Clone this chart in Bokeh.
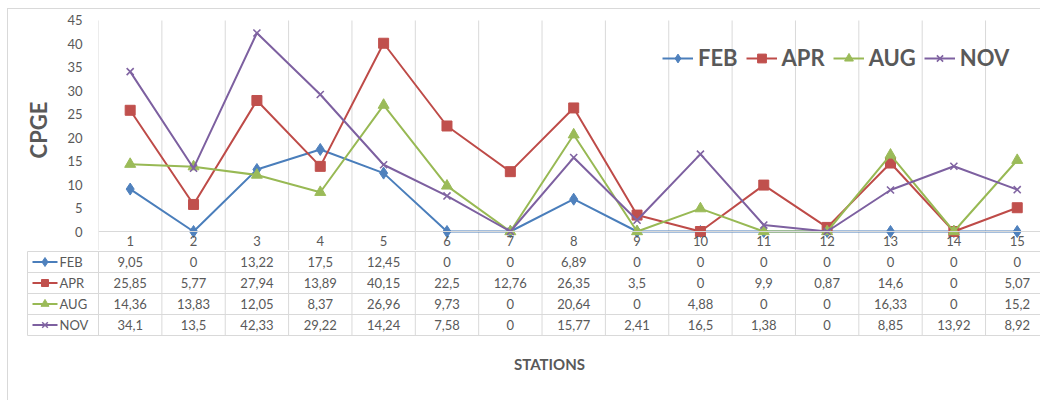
from bokeh.plotting import figure
from bokeh.models import FixedTicker, Range1d, Legend, LegendItem, ColumnDataSource
from bokeh.layouts import column
from bokeh.embed import file_html
from bokeh.resources import INLINE
from bokeh.core.properties import value

# ---------------- data ----------------
stations = list(range(1, 16))
series_names = ["FEB", "APR", "AUG", "NOV"]
feb = [9.05, 0, 13.22, 17.5, 12.45, 0, 0, 6.89, 0, 0, 0, 0, 0, 0, 0]
apr = [25.85, 5.77, 27.94, 13.89, 40.15, 22.5, 12.76, 26.35, 3.5, 0, 9.9, 0.87, 14.6, 0, 5.07]
aug = [14.36, 13.83, 12.05, 8.37, 26.96, 9.73, 0, 20.64, 0, 4.88, 0, 0, 16.33, 0, 15.2]
nov = [34.1, 13.5, 42.33, 29.22, 14.24, 7.58, 0, 15.77, 2.41, 16.5, 1.38, 0, 8.85, 13.92, 8.92]
y_ticks = [0, 5, 10, 15, 20, 25, 30, 35, 40, 45]
x_title = "STATIONS"
y_title = "CPGE"

# ---------------- style ----------------
FONT = "Lato"
TXT = "#595959"
GRID = "#d9d9d9"
line_colors = ["#4A7EBB", "#BE4B48", "#98B954", "#7D60A0"]
fill_colors = ["#4F81BD", "#C0504D", "#9BBB59", "#8064A2"]
markers = ["diamond", "square", "triangle", "x"]
msizes = [12, 10, 11, 10]
series = [feb, apr, aug, nov]

W = 1032
PX_CAT = 63.36          # pixels per station
PX_UNIT = 4.689         # pixels per CPGE unit
A_H = 241               # top figure height
ZERO_Y = 222            # zero line, pixels from top figure's top
LEFT_A = 90
LEFT_B = 18
KEY_W = 71 / PX_CAT     # width of key column, in station units
ROW_PX = 21.0

n = len(stations)
x_end = 0.5 + (W - LEFT_A) / PX_CAT
y_top = ZERO_Y / PX_UNIT
y_bot = -(A_H - ZERO_Y) / PX_UNIT

# ---------------- chart ----------------
p = figure(width=W, height=A_H, output_backend="svg", toolbar_location=None,
           x_range=Range1d(0.5, x_end), y_range=Range1d(y_bot, y_top),
           min_border_left=LEFT_A, min_border_right=0, min_border_top=0, min_border_bottom=0)
p.frame_align = False
p.outline_line_color = None
p.grid.visible = False
p.background_fill_color = "white"
p.border_fill_color = "white"

# vertical category gridlines
bounds = [i + 0.5 for i in range(n + 1)]
p.segment(x0=bounds, x1=bounds, y0=[max(y_ticks)] * len(bounds), y1=[y_bot] * len(bounds),
          line_color=GRID, line_width=1)

yax = p.yaxis[0]
yax.ticker = FixedTicker(ticks=y_ticks)
yax.axis_line_color = None
yax.major_tick_line_color = None
yax.minor_tick_line_color = None
yax.major_label_text_font = FONT
yax.major_label_text_font_size = "13px"
yax.major_label_text_color = TXT
yax.major_label_standoff = 10
yax.axis_label = y_title
yax.axis_label_text_font = FONT
yax.axis_label_text_font_size = "22px"
yax.axis_label_text_font_style = "bold"
yax.axis_label_text_color = TXT
yax.axis_label_standoff = 12

xax = p.xaxis[0]
xax.fixed_location = 0
xax.ticker = FixedTicker(ticks=stations)
xax.axis_line_color = GRID
xax.axis_line_width = 1
xax.major_tick_line_color = None
xax.minor_tick_line_color = None
xax.major_label_text_font = FONT
xax.major_label_text_font_size = "13px"
xax.major_label_text_color = TXT
xax.major_label_standoff = -2

items = []
for name, vals, lc, fc, mk, ms in zip(series_names, series, line_colors, fill_colors, markers, msizes):
    src = ColumnDataSource(dict(x=stations, y=vals))
    r1 = p.line("x", "y", source=src, line_color=lc, line_width=2)
    if mk == "x":
        r2 = p.scatter("x", "y", source=src, marker=mk, size=ms, line_color=fc, line_width=1.6)
    else:
        r2 = p.scatter("x", "y", source=src, marker=mk, size=ms, fill_color=fc, line_color=fc)
    items.append(LegendItem(label=name, renderers=[r1, r2]))

legend = Legend(items=items, orientation="horizontal", location=(564, 179),
                label_text_font=FONT, label_text_font_size="22px", label_text_font_style="bold",
                label_text_color=TXT, glyph_width=31, glyph_height=22, label_height=22,
                label_standoff=5, spacing=8, padding=0, margin=0,
                border_line_color=None, background_fill_alpha=0)
p.add_layout(legend)

# ---------------- data table ----------------
B_H = 150
top_pad = 1 / ROW_PX
t_top = 4 + top_pad
t_bot = t_top - B_H / ROW_PX
t = figure(width=W, height=B_H, output_backend="svg", toolbar_location=None,
           x_range=Range1d(0.5 - (71 + 1) / PX_CAT, x_end), y_range=Range1d(t_bot, t_top),
           x_axis_location=None, y_axis_location=None,
           min_border_left=LEFT_B, min_border_right=0, min_border_top=0, min_border_bottom=0)
t.frame_align = False
t.outline_line_color = None
t.grid.visible = False
t.border_fill_color = "white"

left_edge = 0.5 - KEY_W
rows = [0, 1, 2, 3, 4]
t.segment(x0=[left_edge] * len(rows), x1=[n + 0.5] * len(rows), y0=rows, y1=rows,
          line_color=GRID, line_width=1)
vx = [left_edge] + bounds
t.segment(x0=vx, x1=vx, y0=[0] * len(vx), y1=[4] * len(vx), line_color=GRID, line_width=1)

def fmt(v):
    return str(v).replace(".", ",")

for k, (name, vals, lc, fc, mk, ms) in enumerate(zip(series_names, series, line_colors,
                                                     fill_colors, markers, msizes)):
    yrow = 3.5 - k
    t.text(x=stations, y=[yrow] * n, text=[fmt(v) for v in vals],
           text_font=value(FONT), text_font_size="13px", text_color=TXT,
           text_align="center", text_baseline="middle")
    # key
    kx0 = left_edge + 5 / PX_CAT
    kx1 = left_edge + 30 / PX_CAT
    t.line(x=[kx0, kx1], y=[yrow, yrow], line_color=lc, line_width=2)
    km = (kx0 + kx1) / 2
    if mk == "x":
        t.scatter(x=[km], y=[yrow], marker=mk, size=ms - 2, line_color=fc, line_width=1.5)
    else:
        t.scatter(x=[km], y=[yrow], marker=mk, size=ms - 3, fill_color=fc, line_color=fc)
    t.text(x=[kx1 + 2 / PX_CAT], y=[yrow], text=[name], text_font=value(FONT),
           text_font_size="13px", text_color=TXT, text_align="left", text_baseline="middle")

# x-axis title, centred under the table
title_x = 0.5 + (549 - 98) / PX_CAT
title_y = 4 - (363 - 251) / ROW_PX
t.text(x=[title_x], y=[title_y], text=[x_title], text_font=value(FONT),
       text_font_size="15px", text_font_style="bold", text_color=TXT,
       text_align="center", text_baseline="middle")

layout = column(p, t, spacing=0,
                styles={"margin-left": "7px", "margin-top": "8px",
                        "border-top": "1px solid #d9d9d9", "border-left": "1px solid #d9d9d9"})

open("out.html", "w").write(file_html(layout, INLINE))
